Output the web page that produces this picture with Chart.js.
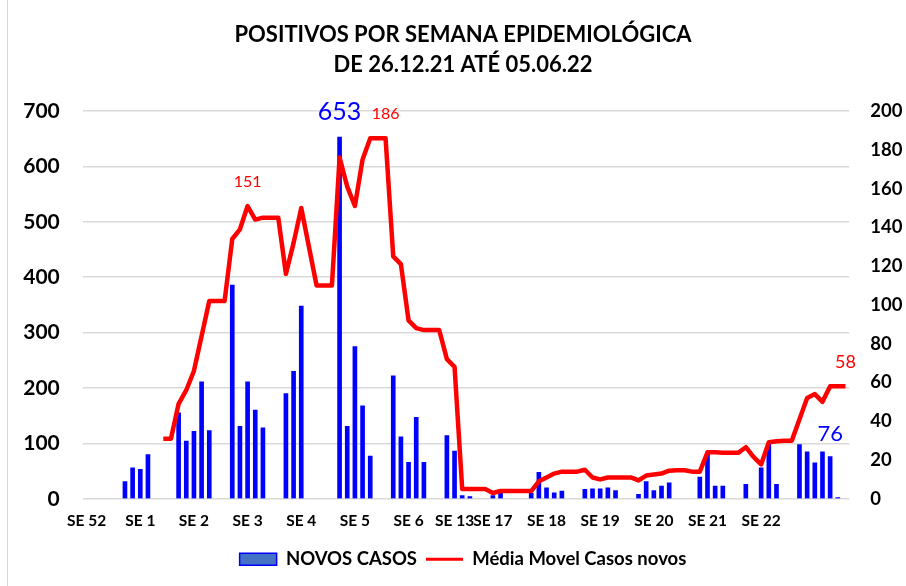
<!DOCTYPE html>
<html><head><meta charset="utf-8">
<script src="https://cdn.jsdelivr.net/npm/chart.js@4"></script>
<style>
html,body{margin:0;padding:0;background:#fff;}
#wrap{position:relative;width:906px;height:586px;overflow:hidden;background:#fff;}
#frame{position:absolute;left:7px;top:-2px;width:960px;height:600px;border-left:1px solid #d9d9d9;}
canvas{position:absolute;left:0;top:0;}
</style></head><body>
<div id="wrap"><div id="frame"></div><canvas id="c" width="906" height="586"></canvas></div>
<script>
// categories (one per day, week labels on selected days)
const categories = [
  'SE 52','','','','','','',
  'SE 1','','','','','','',
  'SE 2','','','','','','',
  'SE 3','','','','','','',
  'SE 4','','','','','','',
  'SE 5','','','','','','',
  'SE 6','','','','','','SE 13',
  '','','','','SE 17','','',
  '','','','','SE 18','','',
  '','','','','SE 19','','',
  '','','','','SE 20','','',
  '','','','','SE 21','','',
  '','','','','SE 22','','',
  '','','','','','','',
  '',''
];
// NOVOS CASOS (left axis)
const novosCasos = [
  null,null,null,null,null,31,56,
  53,80,null,null,null,155,104,
  122,211,123,null,null,386,131,
  211,160,128,null,null,190,230,
  348,null,null,null,null,653,131,
  275,168,77,null,null,222,112,
  66,147,66,null,null,114,86,
  6,4,null,null,6,10,null,
  null,null,10,48,20,11,14,
  null,null,17,18,18,20,15,
  null,null,8,31,15,23,29,
  null,null,null,39,84,23,23,
  null,null,26,null,56,100,26,
  null,null,98,85,65,85,76,
  2,null
];
// Média Movel Casos novos (right axis)
const mediaMovel = [
  null,null,null,null,null,null,null,
  null,null,null,31,31,49,56,
  66,84,102,102,102,134,139,
  151,144,145,145,145,116,132,
  150,130,110,110,110,176,161,
  151,175,186,186,186,125,121,
  92,88,87,87,87,72,68,
  5,5,5,5,3,4,4,
  4,4,4,9,11,13,14,
  14,14,15,11,10,11,11,
  11,11,9.5,12,12.5,13,14.5,
  14.7,14.7,14,14,24,24,23.7,
  23.7,23.7,26.6,21.6,17.7,29.2,29.7,
  30,30,41,52,54,50,58,
  58,58
];
const leftTicks = {min: 0, max: 700, step: 100};
const rightTicks = {min: 0, max: 200, step: 20};
const titleLines = ['POSITIVOS POR SEMANA EPIDEMIOLÓGICA', 'DE 26.12.21 ATÉ 05.06.22'];
const seriesNames = ['NOVOS CASOS', 'Média Movel Casos novos'];
const barLabelIdx = [33, 97];
const lineLabelIdx = [21, 39, 99];

const valueLabels = {
  id: 'valueLabels',
  afterDatasetsDraw(chart) {
    const ctx = chart.ctx;
    ctx.save();
    ctx.textAlign = 'center';
    ctx.textBaseline = 'middle';
    const barMeta = chart.getDatasetMeta(0);
    const lineMeta = chart.getDatasetMeta(1);
    ctx.fillStyle = '#0000FF';
    barLabelIdx.forEach((i, k) => {
      const el = barMeta.data[i];
      ctx.font = (k === 0 ? 25 : 22) + 'px Lato';
      ctx.fillText(String(Math.round(novosCasos[i])), el.x, el.y - (k === 0 ? 25 : 22.5));
    });
    ctx.fillStyle = '#FF0000';
    lineLabelIdx.forEach((i, k) => {
      const el = lineMeta.data[i];
      ctx.font = (k === 2 ? 18 : 16) + 'px Lato';
      ctx.fillText(String(Math.round(mediaMovel[i])), el.x, el.y - 24);
    });
    ctx.restore();
  }
};

new Chart(document.getElementById('c'), {
  type: 'bar',
  data: {
    labels: categories,
    datasets: [
      {
        type: 'bar', label: seriesNames[0], data: novosCasos, yAxisID: 'y',
        backgroundColor: '#0000FF', borderWidth: 0, barThickness: 4, order: 1
      },
      {
        type: 'line', label: seriesNames[1], data: mediaMovel, yAxisID: 'y1',
        borderColor: '#FF0000', backgroundColor: '#FF0000', borderWidth: 4.5,
        pointRadius: 0, tension: 0, borderJoinStyle: 'round', spanGaps: false, order: 0
      }
    ]
  },
  options: {
    responsive: false,
    animation: false,
    devicePixelRatio: 1,
    layout: {padding: {left: 20, right: 0, top: 0, bottom: 7.5}},
    plugins: {
      title: {
        display: true, text: titleLines, color: '#000',
        font: {family: 'Lato', size: 22, weight: 'bold', lineHeight: 1.364},
        padding: {top: 20.3, bottom: 30.7}
      },
      legend: {
        position: 'bottom',
        labels: {
          color: '#000', font: {family: 'Lato', size: 18.5, weight: 'bold'},
          usePointStyle: true, pointStyleWidth: 37, boxHeight: 12, padding: 9,
          generateLabels() {
            return [
              {text: seriesNames[0], fillStyle: '#4472C4', strokeStyle: '#0000FF', lineWidth: 1.5, pointStyle: 'rect', datasetIndex: 0, fontColor: '#000'},
              {text: seriesNames[1], fillStyle: '#FF0000', strokeStyle: '#FF0000', lineWidth: 3, pointStyle: 'line', datasetIndex: 1, fontColor: '#000'}
            ];
          }
        }
      },
      tooltip: {enabled: false}
    },
    scales: {
      x: {
        offset: true,
        grid: {display: false, drawTicks: false},
        border: {display: false},
        ticks: {autoSkip: false, maxRotation: 0, minRotation: 0, padding: 13, color: '#000',
          font: {family: 'Lato', size: 15.5, weight: 'bold'}},
        afterFit(s) { s.height = 42.2; }
      },
      y: {
        position: 'left', min: leftTicks.min, max: leftTicks.max,
        grid: {color: '#d9d9d9', lineWidth: 1.5, drawTicks: false},
        border: {display: false},
        ticks: {stepSize: leftTicks.step, padding: 23, color: '#000',
          font: {family: 'Lato', size: 21, weight: 'bold'}},
        afterFit(s) { s.width = 62.8; }
      },
      y1: {
        position: 'right', min: rightTicks.min, max: rightTicks.max,
        grid: {display: false, drawTicks: false},
        border: {display: false},
        ticks: {stepSize: rightTicks.step, padding: 21, color: '#000',
          font: {family: 'Lato', size: 18.5, weight: 'bold'}},
        afterFit(s) { s.width = 56.7; }
      }
    }
  },
  plugins: [valueLabels]
});
</script>
</body></html>
